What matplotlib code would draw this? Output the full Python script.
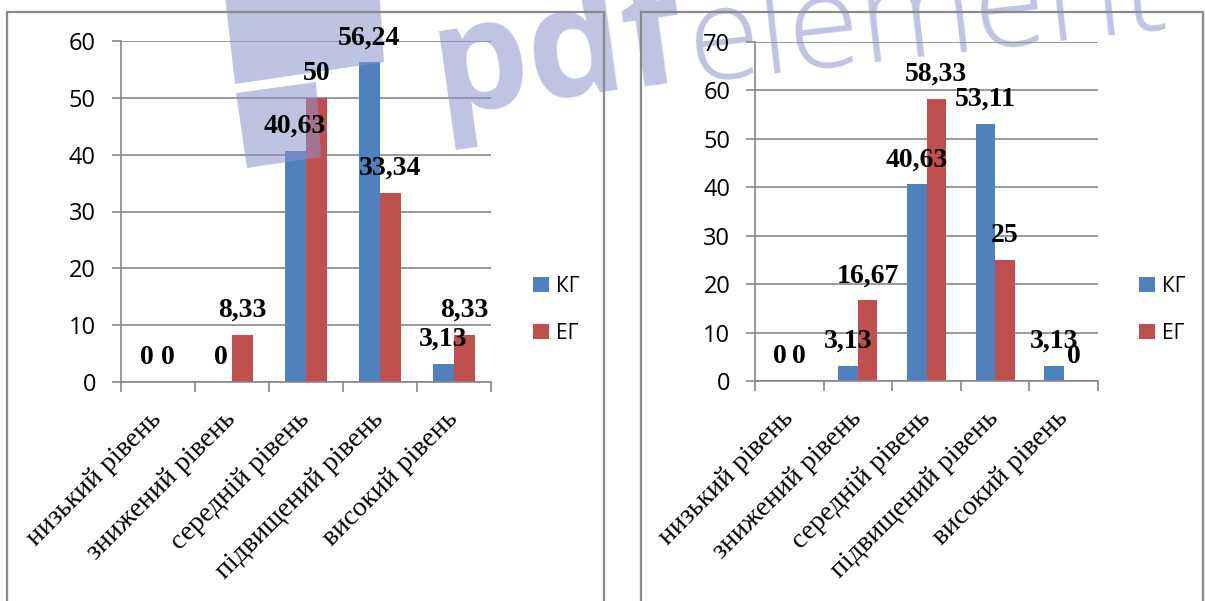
import matplotlib
matplotlib.use("Agg")
import matplotlib.pyplot as plt
from matplotlib.patches import Patch, Rectangle, Polygon
import numpy as np

plt.rcParams["font.family"] = ["Liberation Serif", "DejaVu Serif"]

# ---- data ----
categories = ["низький рівень", "знижений рівень", "середній рівень",
              "підвищений рівень", "високий рівень"]
series_names = ["КГ", "ЕГ"]
left_kg = [0, 0, 40.63, 56.24, 3.13]
left_eg = [0, 8.33, 50, 33.34, 8.33]
right_kg = [0, 3.13, 40.63, 53.11, 3.13]
right_eg = [0, 16.67, 58.33, 25, 0]
left_yticks = [0, 10, 20, 30, 40, 50, 60]
right_yticks = [0, 10, 20, 30, 40, 50, 60, 70]

BLUE = "#4f81bd"
RED = "#c0504d"
GRID = "#878787"
W, H = 1205, 601


def fx(px):
    return px / W


def fy(py):
    return 1 - py / H


def fmt(v):
    return f"{v:g}".replace(".", ",")


fig = plt.figure(figsize=(W / 100, H / 100), dpi=100)
fig.patch.set_facecolor("white")

# panel frames
for x0, x1 in [(7, 604), (641, 1203)]:
    fig.patches.append(Rectangle((fx(x0), fy(640)), fx(x1) - fx(x0), fy(12) - fy(640),
                                 transform=fig.transFigure, fill=False,
                                 edgecolor="#8a8a8a", lw=1.6, zorder=1))


def draw_panel(rect, kg, eg, yticks, legend_xy):
    ax = fig.add_axes(rect)
    ax.set_facecolor("none")
    n = len(categories)
    centers = np.arange(n) + 0.5
    bw = 0.285
    for vals, col, off in [(kg, BLUE, -bw / 2), (eg, RED, bw / 2)]:
        ax.bar(centers + off, vals, width=bw, color=col, zorder=2)
        for x, v in zip(centers + off, vals):
            ax.annotate(fmt(v), xy=(x, v), xytext=(0, 13), textcoords="offset points",
                        ha="center", va="baseline", fontsize=20, fontweight="bold",
                        family="Liberation Serif", color="black", zorder=6,
                        annotation_clip=False)
    ax.set_xlim(0, n)
    ax.set_ylim(yticks[0], yticks[-1])
    ax.set_yticks(yticks)
    ax.set_yticklabels([str(t) for t in yticks], fontsize=17, family="Open Sans")
    ax.set_xticks(np.arange(n + 1))
    ax.set_xticks(centers, labels=categories, minor=True, fontsize=20,
                  rotation=45, ha="right", va="center", rotation_mode="anchor")
    ax.tick_params(axis="x", which="major", labelbottom=False, length=7.5,
                   width=1.2, color=GRID, direction="out")
    ax.tick_params(axis="x", which="minor", length=0, pad=24)
    ax.tick_params(axis="y", length=6.3, width=1.2, color=GRID, pad=11.5)
    ax.yaxis.grid(True, color=GRID, lw=1.2)
    ax.set_axisbelow(True)
    for s in ["top", "right"]:
        ax.spines[s].set_visible(False)
    for s in ["left", "bottom"]:
        ax.spines[s].set_color(GRID)
        ax.spines[s].set_linewidth(1.2)
    ax.legend(handles=[Patch(fc=BLUE), Patch(fc=RED)], labels=series_names,
              loc="center left", bbox_to_anchor=legend_xy,
              bbox_transform=fig.transFigure, frameon=False,
              prop={"family": "Open Sans", "size": 15},
              handlelength=0.75, handleheight=0.75, handletextpad=0.35,
              labelspacing=1.25, borderpad=0, borderaxespad=0)
    return ax


axL = draw_panel([fx(120.7), fy(382), fx(490.7) - fx(120.7), fy(41) - fy(382)],
                 left_kg, left_eg, left_yticks, (fx(533), fy(310)))
axR = draw_panel([fx(755), fy(381), fx(1098) - fx(755), fy(42) - fy(381)],
                 right_kg, right_eg, right_yticks, (fx(1139), fy(310)))

# pdfelement watermark
WM = (139 / 255, 147 / 255, 203 / 255)
WA = 0.55
for pts in [[(222, -30), (377, -45), (384, 62), (235, 84)],
            [(236, 93), (316, 82), (321, 157), (247, 168)]]:
    axL.add_patch(Polygon([(fx(a), fy(b)) for a, b in pts], closed=True,
                          transform=fig.transFigure, fc=WM, ec="none",
                          alpha=WA, zorder=4, clip_on=False))

ang = 8.0
x0, y0 = 438, 113
fs_bold, fs_light = 110, 94
axL.text(fx(x0), fy(y0), "pdf", transform=fig.transFigure, rotation=ang,
         rotation_mode="anchor", ha="left", va="baseline", fontsize=fs_bold,
         fontweight="bold", family="Open Sans", color=WM, alpha=WA,
         zorder=4, clip_on=False)
renderer = fig.canvas.get_renderer()
tmp = fig.text(0, 0, "pdf", fontsize=fs_bold, fontweight="bold", family="Open Sans")
wpx = tmp.get_window_extent(renderer).width
tmp.remove()
x1 = x0 + wpx * np.cos(np.radians(ang)) + 4
y1 = y0 - wpx * np.sin(np.radians(ang)) + 4
axL.text(fx(x1), fy(y1), "element", transform=fig.transFigure, rotation=ang - 1.5,
         rotation_mode="anchor", ha="left", va="baseline", fontsize=fs_light,
         fontweight=300, family="Open Sans", color=WM, alpha=WA,
         zorder=4, clip_on=False)

fig.savefig("out.png", dpi=100)
